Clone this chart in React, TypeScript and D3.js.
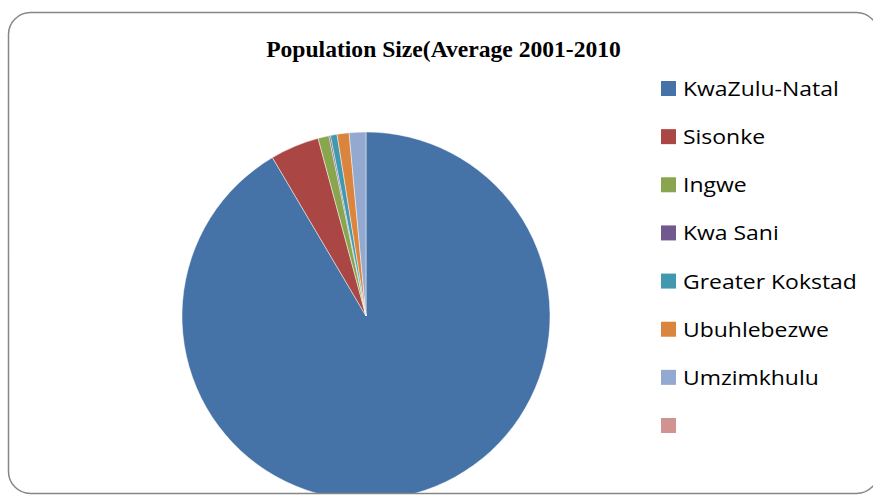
import React from "react";
import * as d3 from "d3";

const categories = [
  "KwaZulu-Natal",
  "Sisonke",
  "Ingwe",
  "Kwa Sani",
  "Greater Kokstad",
  "Ubuhlebezwe",
  "Umzimkhulu",
  "",
];
const populationValues = [10000000, 470000, 105000, 15000, 63000, 115000, 160000, 0];
const sliceColors = [
  "#4572A7",
  "#AA4643",
  "#89A54E",
  "#71588F",
  "#4198AF",
  "#DB843D",
  "#93A9CF",
  "#D19392",
];
const chartTitle = "Population Size(Average 2001-2010";

export default function App() {
  const W = 873;
  const H = 495;
  const cx = 366;
  const cy = 316;
  const r = 184;

  const data = categories.map((c, i) => ({ name: c, value: populationValues[i], color: sliceColors[i] }));
  const pie = d3.pie<any>().sort(null).value((d: any) => d.value).startAngle(0).endAngle(2 * Math.PI);
  const arcs = pie(data);
  const arc = d3.arc<any>().innerRadius(0).outerRadius(r);

  const legendY = d3.scalePoint<number>().domain(d3.range(categories.length)).range([88.5, 425.5]);

  return (
    <svg
      width={W}
      height={H}
      style={{ position: "absolute", left: 0, top: 0, background: "#fff" }}
    >
      <defs>
        <clipPath id="frameClip">
          <rect x={8} y={12} width={870} height={482} rx={22} ry={22} />
        </clipPath>
      </defs>
      <rect x={0} y={0} width={W} height={H} fill="#fff" />
      <g clipPath="url(#frameClip)">
        <g transform={`translate(${cx},${cy})`}>
          {arcs.map((a, i) =>
            a.value > 0 ? (
              <path key={i} d={arc(a) as string} fill={a.data.color} stroke="#ffffff" strokeWidth={0.6} strokeOpacity={0.8} />
            ) : null
          )}
        </g>
      </g>
      <rect x={8.5} y={12.5} width={870} height={481} rx={22} ry={22} fill="none" stroke="#868686" strokeWidth={1.5} />
      <text
        x={443.5}
        y={57}
        textAnchor="middle"
        fontFamily="'Liberation Serif', 'Times New Roman', serif"
        fontWeight="bold"
        fontSize={23.6}
        fill="#000"
      >
        {chartTitle}
      </text>
      <g>
        {data.map((d, i) => (
          <g key={i} transform={`translate(661,${legendY(i)})`}>
            <rect x={0} y={-7.5} width={15} height={15} fill={d.color} />
            <g transform="translate(22,0) scale(1.147,1)">
              <text
                x={0}
                y={7.5}
                fontFamily="'Open Sans', sans-serif"
                fontSize={20}
                fill="#000"
              >
                {d.name}
              </text>
            </g>
          </g>
        ))}
      </g>
    </svg>
  );
}
